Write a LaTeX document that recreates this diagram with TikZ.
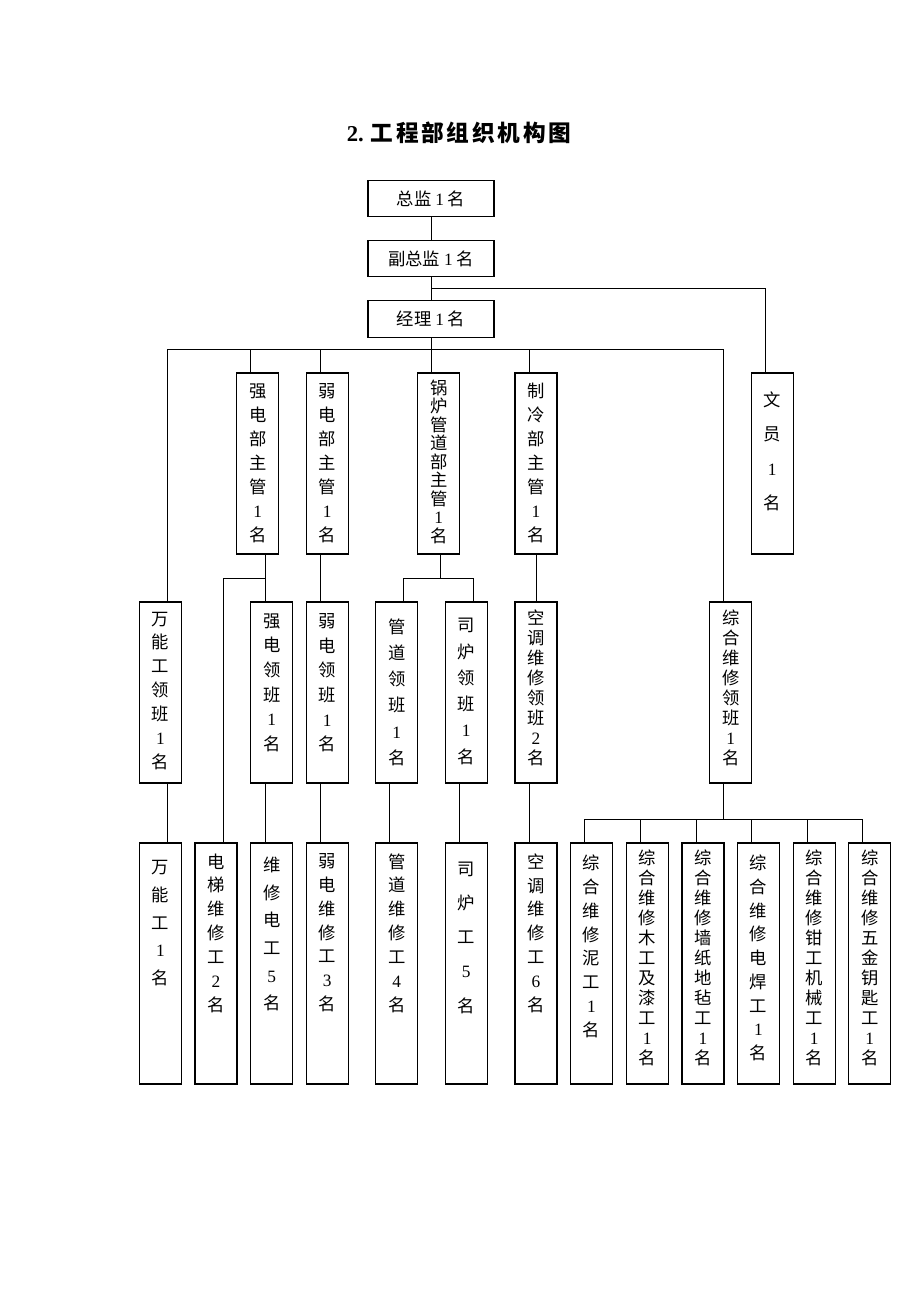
\documentclass[tikz,border=0pt]{standalone}
\usepackage{fontspec}
\setmainfont{Noto Sans CJK SC}
\newfontfamily\dig{Liberation Serif}
\newfontfamily\titlefont{Noto Sans CJK SC}[LetterSpace=12]

\tikzset{
  hbox/.style={draw, line width=0.9pt, minimum width=94.5pt, minimum height=27.4pt, inner sep=0pt, font=\fontsize{13pt}{15pt}\selectfont},
  vbox/.style={draw, line width=0.9pt, minimum width=31.5pt, minimum height=#1, inner sep=0pt},
  vbox/.default=135.75pt,
  vtext/.style={anchor=north, inner sep=0pt, align=center, font=\fontsize{13pt}{#1}\selectfont},
  link/.style={line width=0.75pt}
}

\begin{document}
\begin{tikzpicture}[x=0.75pt,y=0.75pt,yscale=-1,xscale=1]
\useasboundingbox (0,0) rectangle (920,1302);

% Title
\node (title) at (459,133) {\fontsize{17pt}{20pt}\selectfont\bfseries{\dig 2.} \titlefont 工程部组织机构图};

%Top boxes
\node[hbox] (zj) at (431,198.5) {总监 {\dig 1} 名};
\node[hbox] (fzj) at (431,258.5) {副总监 {\dig 1} 名};
\node[hbox] (jl) at (431,319) {经理 {\dig 1} 名};

%Level 2 boxes
\node[vbox] (qd) at (257.7,463.5) {};
\node[vbox] (rd) at (327.3,463.5) {};
\node[vbox] (gl) at (438.7,463.5) {};
\node[vbox] (zl) at (536,463.5) {};
\node[vbox] (wy) at (772.3,463.5) {};

%Level 3 boxes
\node[vbox] (wnl) at (160.5,692.5) {};
\node[vbox] (qdl) at (271.7,692.5) {};
\node[vbox] (rdl) at (327.3,692.5) {};
\node[vbox] (gdl) at (396.7,692.5) {};
\node[vbox] (sll) at (466.3,692.5) {};
\node[vbox] (ktl) at (536,692.5) {};
\node[vbox] (zhl) at (730.7,692.5) {};

%Level 4 boxes
\node[vbox=180.75pt] (wng) at (160.5,963.5) {};
\node[vbox=180.75pt] (dt) at (216,963.5) {};
\node[vbox=180.75pt] (wxd) at (271.7,963.5) {};
\node[vbox=180.75pt] (rdw) at (327.3,963.5) {};
\node[vbox=180.75pt] (gdw) at (396.7,963.5) {};
\node[vbox=180.75pt] (slg) at (466.3,963.5) {};
\node[vbox=180.75pt] (ktw) at (536,963.5) {};
\foreach \n/\x in {z1/591.5, z2/647.3, z3/703, z4/758.5, z5/814.2, z6/869.8}
  \node[vbox=180.75pt] (\n) at (\x,963.5) {};

% Text Node
\node[vtext=18pt] (t-qd) at (257.7,383.2) {强\\电\\部\\主\\管\\{\dig 1}\\名};
\node[vtext=18pt] (t-rd) at (327.3,383.2) {弱\\电\\部\\主\\管\\{\dig 1}\\名};
\node[vtext=13.875pt] (t-gl) at (438.7,379.5) {锅\\炉\\管\\道\\部\\主\\管\\{\dig 1}\\名};
\node[vtext=18pt] (t-zl) at (536,383.2) {制\\冷\\部\\主\\管\\{\dig 1}\\名};
\node[vtext=25.875pt] (t-wy) at (772.3,391.5) {文\\员\\{\dig 1}\\名};

% Text Node
\node[vtext=17.9pt] (t-wnl) at (160.5,611.5) {万\\能\\工\\领\\班\\{\dig 1}\\名};
\node[vtext=18.5pt] (t-qdl) at (271.7,613.2) {强\\电\\领\\班\\{\dig 1}\\名};
\node[vtext=18.5pt] (t-rdl) at (327.3,613.2) {弱\\电\\领\\班\\{\dig 1}\\名};
\node[vtext=19.7pt] (t-gdl) at (396.7,618.2) {管\\道\\领\\班\\{\dig 1}\\名};
\node[vtext=19.7pt] (t-sll) at (466.3,618.2) {司\\炉\\领\\班\\{\dig 1}\\名};
\node[vtext=15pt] (t-ktl) at (536,609.8) {空\\调\\维\\修\\领\\班\\{\dig 2}\\名};
\node[vtext=15pt] (t-zhl) at (730.7,609.8) {综\\合\\维\\修\\领\\班\\{\dig 1}\\名};

% Text Node
\node[vtext=20.9pt] (t-wng) at (160.5,859.8) {万\\能\\工\\{\dig 1}\\名};
\node[vtext=17.9pt] (t-dt) at (216,853.2) {电\\梯\\维\\修\\工\\{\dig 2}\\名};
\node[vtext=20.8pt] (t-wxd) at (271.7,856.5) {维\\修\\电\\工\\{\dig 5}\\名};
\node[vtext=17.9pt] (t-rdw) at (327.3,853.2) {弱\\电\\维\\修\\工\\{\dig 3}\\名};
\node[vtext=17.9pt] (t-gdw) at (396.7,853.2) {管\\道\\维\\修\\工\\{\dig 4}\\名};
\node[vtext=25.65pt] (t-slg) at (466.3,861.5) {司\\炉\\工\\{\dig 5}\\名};
\node[vtext=17.9pt] (t-ktw) at (536,853.2) {空\\调\\维\\修\\工\\{\dig 6}\\名};
\node[vtext=17.85pt] (t-z1) at (591.5,854.8) {综\\合\\维\\修\\泥\\工\\{\dig 1}\\名};
\node[vtext=15pt] (t-z2) at (647.3,849.8) {综\\合\\维\\修\\木\\工\\及\\漆\\工\\{\dig 1}\\名};
\node[vtext=15pt] (t-z3) at (703,849.8) {综\\合\\维\\修\\墙\\纸\\地\\毡\\工\\{\dig 1}\\名};
\node[vtext=17.8pt] (t-z4) at (758.5,854.8) {综\\合\\维\\修\\电\\焊\\工\\{\dig 1}\\名};
\node[vtext=15pt] (t-z5) at (814.2,849.8) {综\\合\\维\\修\\钳\\工\\机\\械\\工\\{\dig 1}\\名};
\node[vtext=15pt] (t-z6) at (869.8,849.8) {综\\合\\维\\修\\五\\金\\钥\\匙\\工\\{\dig 1}\\名};

%Lines top
\draw[link] (zj) -- (fzj);
\draw[link] (fzj) -- (jl);
\draw[link] (431,288.7) -| (765.3,0 |- wy.north);
\draw[link] (jl.south) -- (jl.south |- gl.north);
\draw[link] (167.3,0 |- wnl.north) |- (723.7,349) -- (723.7,0 |- zhl.north);
\draw[link] (250.7,349) -- (250.7,0 |- qd.north);
\draw[link] (320.7,349) -- (320.7,0 |- rd.north);
\draw[link] (529,349) -- (529,0 |- zl.north);

%Lines level 2 to 3
\draw[link] (265,0 |- qd.south) -- (265,0 |- qdl.north);
\draw[link] (265,578.3) -| (223,0 |- dt.north);
\draw[link] (320.7,0 |- rd.south) -- (320.7,0 |- rdl.north);
\draw[link] (440.7,0 |- gl.south) -- (440.7,578.3);
\draw[link] (403.7,0 |- gdl.north) |- (473.3,578.3) -- (473.3,0 |- sll.north);
\draw[link] (536,0 |- zl.south) -- (536,0 |- ktl.north);

%Lines level 3 to 4
\draw[link] (167.3,0 |- wnl.south) -- (167.3,0 |- wng.north);
\draw[link] (265,0 |- qdl.south) -- (265,0 |- wxd.north);
\draw[link] (320.7,0 |- rdl.south) -- (320.7,0 |- rdw.north);
\draw[link] (389.7,0 |- gdl.south) -- (389.7,0 |- gdw.north);
\draw[link] (459.3,0 |- sll.south) -- (459.3,0 |- slg.north);
\draw[link] (529,0 |- ktl.south) -- (529,0 |- ktw.north);
\draw[link] (723.7,0 |- zhl.south) -- (723.7,819.3);
\draw[link] (584.3,0 |- z1.north) |- (862.7,819.3) -- (862.7,0 |- z6.north);
\foreach \x/\n in {640.3/z2, 696/z3, 751.7/z4, 807.3/z5}
  \draw[link] (\x,819.3) -- (\x,0 |- \n.north);

\end{tikzpicture}
\end{document}
